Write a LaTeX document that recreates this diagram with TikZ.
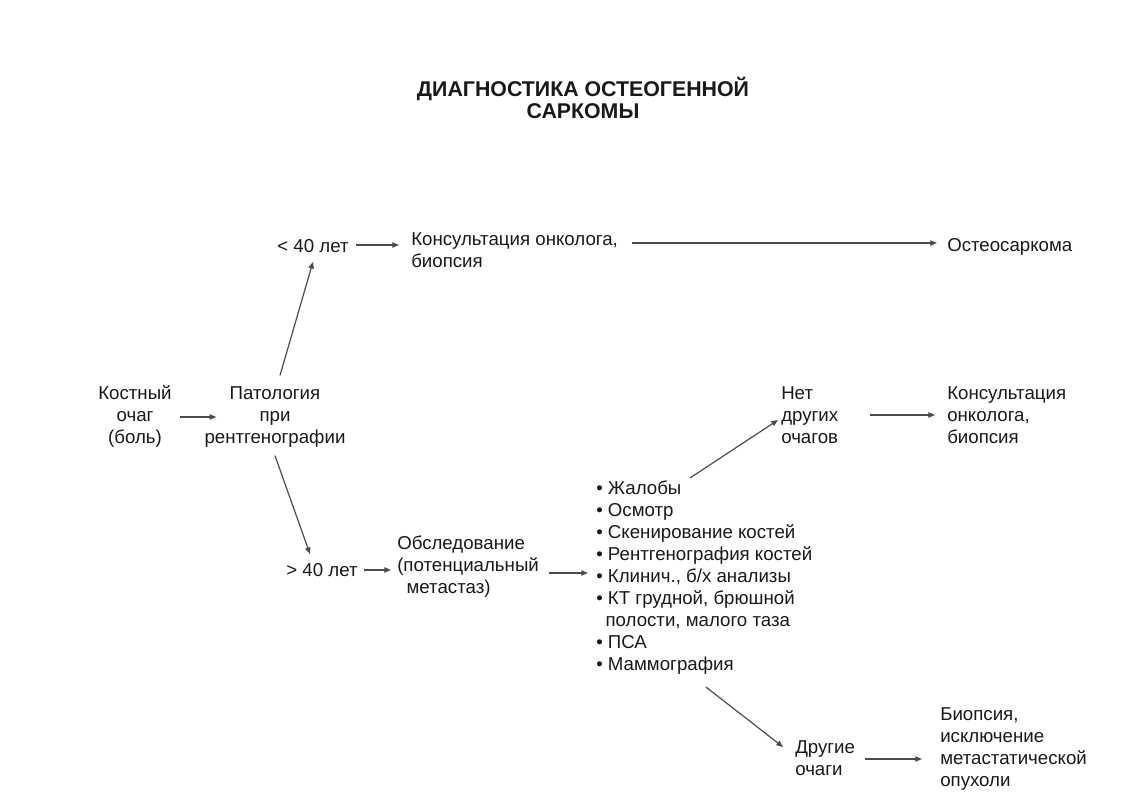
\documentclass[tikz,border=0pt]{standalone}
\usepackage{fontspec}
\setmainfont{Liberation Sans}
\usetikzlibrary{arrows.meta,calc}
\begin{document}
\begin{tikzpicture}[x=0.75pt,y=-0.75pt,
  every node/.style={inner sep=0pt, text=black!90},
  t/.style={font=\fontsize{14}{16.5}\selectfont, align=left},
  tc/.style={t, align=center},
  ttl/.style={font=\fontsize{16}{17}\selectfont\bfseries, align=center},
  arr/.style={draw=black!70, line width=0.9pt, -{Triangle[length=5pt,width=4pt]}}]
\useasboundingbox[fill=white] (0,0) rectangle (1122,812);

\node[ttl] (title) at (583,98) {ДИАГНОСТИКА ОСТЕОГЕННОЙ\\САРКОМЫ};

\node[t] (lt40) at (313,246) {< 40 лет};
\node[t, anchor=west] (kons1) at (411,250) {Консультация онколога,\\биопсия};
\node[t, anchor=west] (osteo) at (947,247) {Остеосаркома};

\node[tc] (kost) at (135,417) {Костный\\очаг\\(боль)};
\node[tc] (pat) at (275,417) {Патология\\при\\рентгенографии};

\node[t, anchor=west] (net) at (781,415) {Нет\\других\\очагов};
\node[t, anchor=west] (kons2) at (947,415) {Консультация\\онколога,\\биопсия};

\node[t] (gt40) at (322,570) {> 40 лет};
\node[t, anchor=west] (obs) at (397,567) {Обследование\\(потенциальный\\\hspace*{0.5em}метастаз)};

\node[t, anchor=north west] (list) at (596,481) {\textbullet{} Жалобы\\
\textbullet{} Осмотр\\
\textbullet{} Скенирование костей\\
\textbullet{} Рентгенография костей\\
\textbullet{} Клинич., б/х анализы\\
\textbullet{} КТ грудной, брюшной\\
\hspace*{0.5em}полости, малого таза\\
\textbullet{} ПСА\\
\textbullet{} Маммография};

\node[t, anchor=west] (drug) at (795,758) {Другие\\очаги};
\node[t, anchor=west] (biop) at (940,749) {Биопсия,\\исключение\\метастатической\\опухоли};

% connectors
\draw[arr] ($(kost.east)+(8,0)$) -- ($(pat.west)+(12,0)$);
\draw[arr] ($(pat.north)+(5,-11)$) -- ($(lt40.south)+(0,9)$);
\draw[arr] ($(pat.south)+(0,8)$) -- ($(gt40.north)+(-12,-9)$);
\draw[arr] ($(lt40.east)+(7,-1)$) -- ($(lt40.east -| kons1.west)+(-12,-1)$);
\draw[arr] ($(kons1.east |- osteo.west)+(14,-4)$) -- ($(osteo.west)+(-10,-4)$);
\draw[arr] ($(gt40.east)+(6,0)$) -- ($(gt40.east -| obs.west)+(-6,0)$);
\draw[arr] ($(obs.east)+(10,6)$) -- ($(obs.east -| list.west)+(-8,6)$);
\draw[arr] ($(list.north west)+(94,-3)$) -- ($(net.west)+(-3,5)$);
\draw[arr] ($(net.west)+(89,0)$) -- ($(net.west -| kons2.west)+(-12,0)$);
\draw[arr] ($(list.south west)+(110,12)$) -- ($(drug.west)+(-12,-11)$);
\draw[arr] ($(drug.east)+(10,1)$) -- ($(drug.east -| biop.west)+(-18,1)$);
\end{tikzpicture}
\end{document}
